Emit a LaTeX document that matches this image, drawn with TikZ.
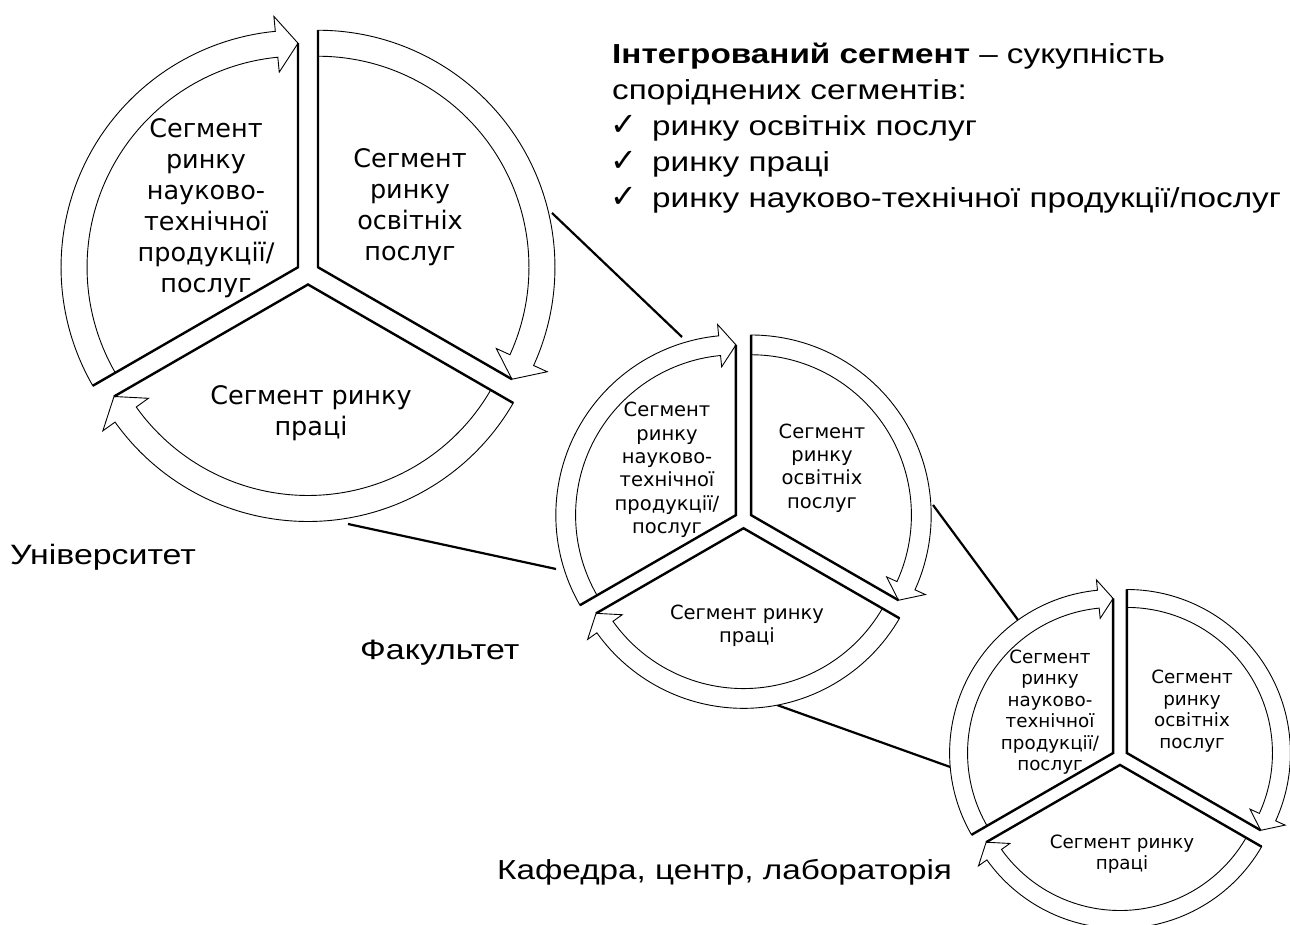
\documentclass[tikz,border=0pt]{standalone}
\usepackage{fontspec}
\setmainfont{Liberation Sans}
\newfontfamily\segfont{DejaVu Sans}
\newfontfamily\symfont{DejaVu Sans}
\newfontfamily\infofont[FakeStretch=1.21]{Liberation Sans}
\tikzset{
  ring/.style={draw=black, line width=0.9pt, fill=white, line join=miter},
  spoke/.style={draw=black, line width=2.4pt, line join=miter, line cap=butt},
  conn/.style={draw=black, line width=2.2pt},
  segbig/.style={align=center, inner sep=0pt, font=\segfont\fontsize{25.5}{31}\selectfont},
  segmid/.style={align=center, inner sep=0pt, font=\segfont\fontsize{19.5}{23.3}\selectfont},
  segsml/.style={align=center, inner sep=0pt, font=\segfont\fontsize{18.3}{21.5}\selectfont},
  info/.style={anchor=base west, inner sep=0pt, font=\infofont\fontsize{27.5}{32}\selectfont},
  tick/.style={anchor=base west, inner sep=0pt, font=\symfont\fontsize{32}{34}\selectfont},
  lvl/.style={anchor=base west, inner sep=0pt, font=\infofont\fontsize{28}{32}\selectfont},
}
\newcommand{\segcycle}[3]{%
  \begin{scope}[shift={(#1,#2)}, scale=#3]
    \foreach \b in {150,30,270} {
      \pgfmathsetmacro{\aS}{\b+60}
      \pgfmathsetmacro{\aE}{\b-60}
      \pgfmathsetmacro{\aH}{\b-60+5.5}
      \begin{scope}[shift={(\b:11.5)}]
        \path[ring] (\aS:237) arc[start angle=\aS, end angle=\aH, radius=237]
          -- (\aH:252) -- (\aE:224) -- (\aH:196) -- (\aH:211)
          arc[start angle=\aH, end angle=\aS, radius=211] -- cycle;
        \draw[spoke] (\aS:237) -- (0,0) -- (\aE:224);
      \end{scope}
    }
  \end{scope}%
}
\begin{document}
\begin{tikzpicture}[x=1pt,y=1pt]
\useasboundingbox[fill=white] (0,0) rectangle (1290,925);

% connector end points
\coordinate (u1) at (552,712);
\coordinate (f1) at (682,588);
\coordinate (u2) at (348,401);
\coordinate (f2) at (556,356);
\coordinate (f3) at (933,420);
\coordinate (k3) at (1018,305);
\coordinate (f4) at (777,220);
\coordinate (k4) at (953,157);
\draw[conn] (u1) -- (f1);
\draw[conn] (u2) -- (f2);
\draw[conn] (f3) -- (k3);
\draw[conn] (f4) -- (k4);

% cycles
\segcycle{308}{652}{1}
\segcycle{743.5}{405.5}{0.76}
\segcycle{1120}{168}{0.69}

% big circle texts
\node[segbig] (bTL) at (206,717) {Сегмент\\ринку\\науково-\\технічної\\продукції/\\послуг};
\node[segbig] (bTR) at (410,718) {Сегмент\\ринку\\освітніх\\послуг};
\node[segbig] (bB) at (311,512) {Сегмент ринку\\праці};

% medium circle texts
\node[segmid] (mTL) at (667,455) {Сегмент\\ринку\\науково-\\технічної\\продукції/\\послуг};
\node[segmid] (mTR) at (822,457) {Сегмент\\ринку\\освітніх\\послуг};
\node[segmid] (mB) at (747,299) {Сегмент ринку\\праці};

% small circle texts
\node[segsml] (sTL) at (1050,213) {Сегмент\\ринку\\науково-\\технічної\\продукції/\\послуг};
\node[segsml] (sTR) at (1192,214) {Сегмент\\ринку\\освітніх\\послуг};
\node[segsml] (sB) at (1122,71) {Сегмент ринку\\праці};

% info block
\node[info] (i1) at (612,861) {\textbf{Інтегрований сегмент} – сукупність};
\node[info] (i2) at (612,825) {споріднених сегментів:};
\node[tick] (c3) at (610,789) {✓};
\node[info] (i3) at (652,789) {ринку освітніх послуг};
\node[tick] (c4) at (610,753) {✓};
\node[info] (i4) at (652,753) {ринку праці};
\node[tick] (c5) at (610,717) {✓};
\node[info] (i5) at (652,717) {ринку науково-технічної продукції/послуг};

% level labels
\node[lvl] (lu) at (10,360) {Університет};
\node[lvl] (lf) at (360,265) {Факультет};
\node[lvl, font=\infofont\fontsize{27.5}{32}\selectfont] (lk) at (497,45) {Кафедра, центр, лабораторія};
\end{tikzpicture}
\end{document}
